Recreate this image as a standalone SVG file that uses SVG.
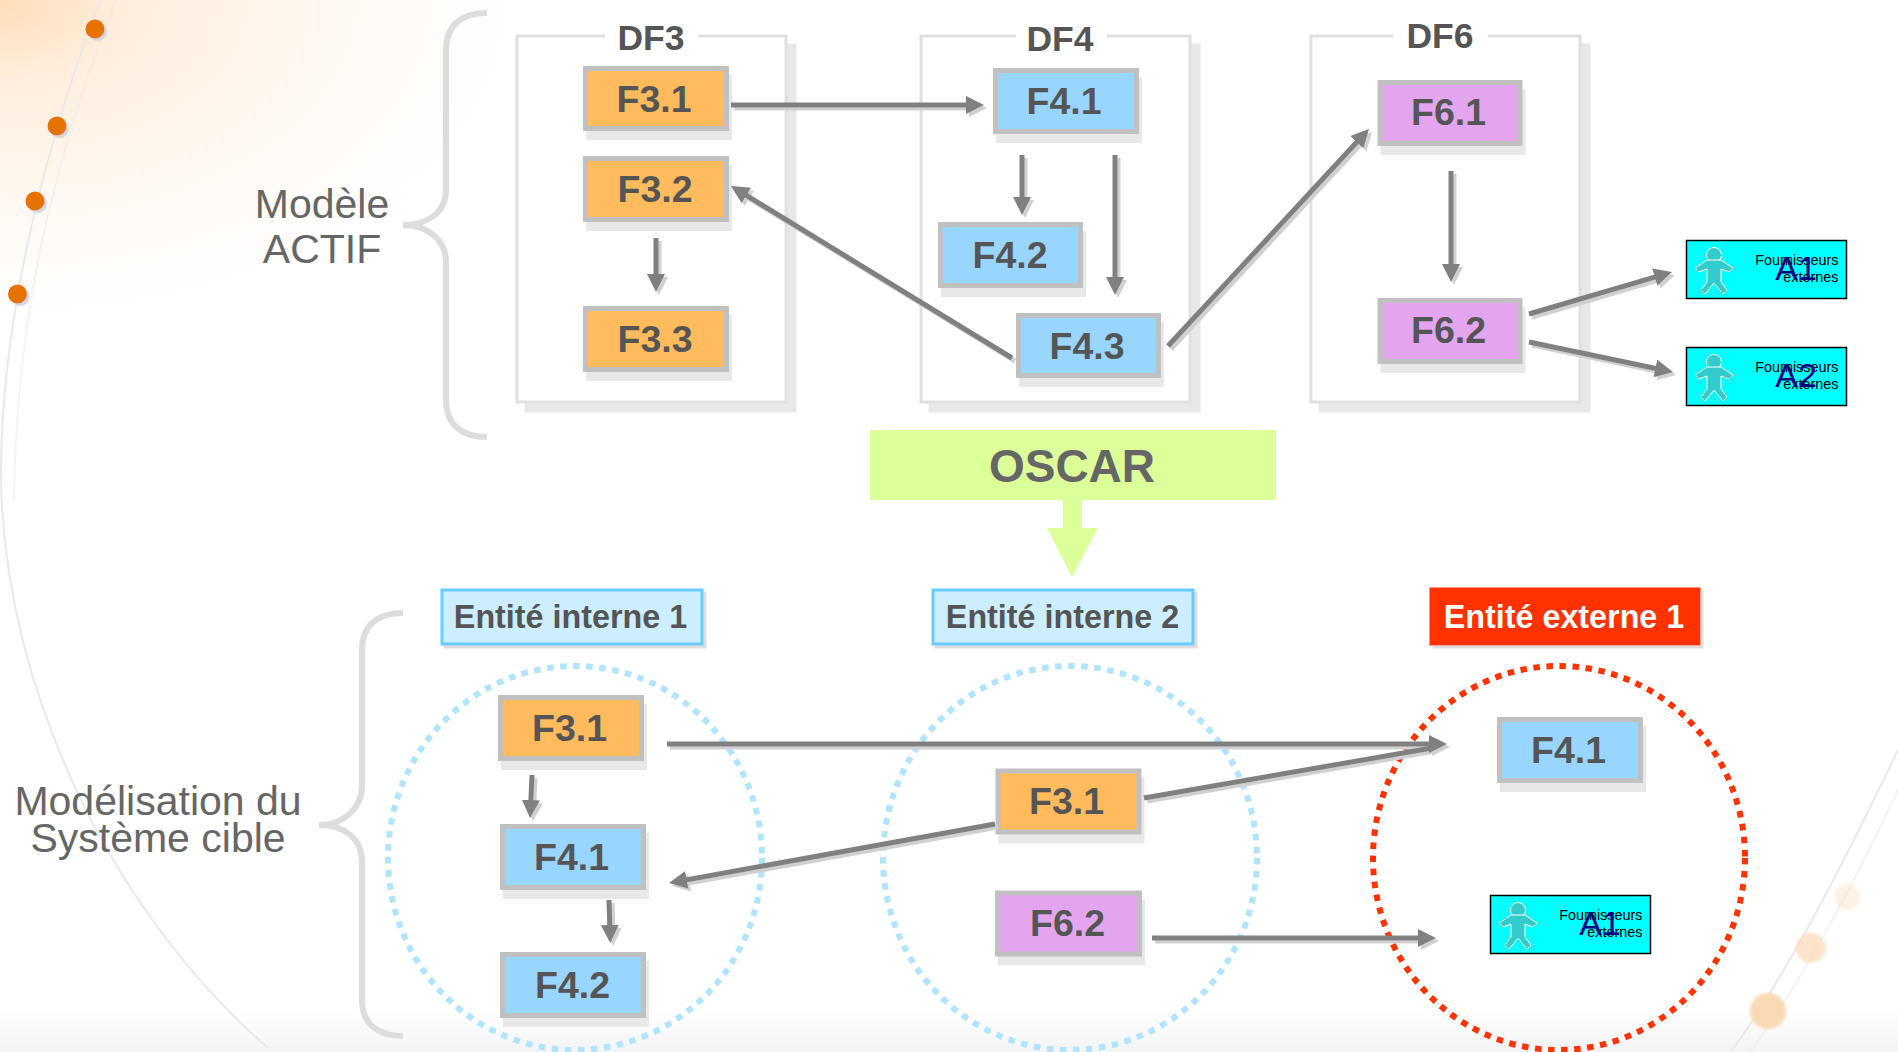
<svg xmlns="http://www.w3.org/2000/svg" width="1898" height="1052" viewBox="0 0 1898 1052">
<style>
text{font-family:"Liberation Sans",Arial,sans-serif}
.frame{fill:#fff;stroke:#e0e0e0;stroke-width:3}
.gap{fill:#fff;stroke:none}
.df{font-size:35.500px;font-weight:bold;fill:#555;text-anchor:middle}
.n rect{stroke:#c0c0c0;stroke-width:5}
.n text{font-size:37.500px;font-weight:bold;fill:#555;text-anchor:middle}
.or rect{fill:#ffbb5c}.bl rect{fill:#99d6ff}.pu rect{fill:#e3a5ee}
.ent rect{fill:#cceeff;stroke:#66ccff;stroke-width:3}
.ent text{font-size:32.300px;font-weight:bold;fill:#555;text-anchor:middle}
.lab{font-size:41px;fill:#666;text-anchor:middle}
.brace{fill:none;stroke:#ddd;stroke-width:6}
.arc{fill:none;stroke:#e9e9e9;stroke-width:2}
.act rect{fill:#0ff;stroke:#000;stroke-width:1.5}
.act .s{font-size:14.400px;fill:#000;text-anchor:end}
.act .a{font-size:34px;fill:#000080;text-anchor:middle}
.dash{fill:none;stroke-width:6;stroke-dasharray:6.5 6.6}
#connectors line{stroke:#808080;stroke-width:5;marker-end:url(#head)}
#connectors line.nohead{marker-end:none}
</style>
<defs>
<radialGradient id="glow" gradientUnits="userSpaceOnUse" cx="0" cy="0" r="1" gradientTransform="translate(0 0) scale(520 320)">
<stop offset="0" stop-color="#ffddb8"/><stop offset=".25" stop-color="#ffeedd"/><stop offset=".6" stop-color="#fff8f0"/><stop offset="1" stop-color="#fff"/>
</radialGradient>
<linearGradient id="floor" x1="0" y1="0" x2="0" y2="1"><stop offset="0" stop-color="#fff"/><stop offset="1" stop-color="#f4f4f4"/></linearGradient>
<filter id="blur" x="-50%" y="-50%" width="200%" height="200%"><feGaussianBlur stdDeviation="1.500"/></filter>
<filter id="sBox" filterUnits="userSpaceOnUse" x="0" y="0" width="1898" height="1052"><feDropShadow dx="3" dy="9" stdDeviation="0" flood-color="#e8e8e8"/></filter>
<filter id="sFrame" filterUnits="userSpaceOnUse" x="0" y="0" width="1898" height="1052"><feDropShadow dx="9" dy="9" stdDeviation="0" flood-color="#e8e8e8"/></filter>
<filter id="sEnt" filterUnits="userSpaceOnUse" x="0" y="0" width="1898" height="1052"><feDropShadow dx="3" dy="3" stdDeviation="0" flood-color="#ddd"/></filter>
<filter id="sDot" filterUnits="userSpaceOnUse" x="0" y="0" width="1898" height="1052"><feDropShadow dx="2.500" dy="2.500" stdDeviation="0" flood-color="#d3d6e2"/></filter>
<filter id="sLine" filterUnits="userSpaceOnUse" x="0" y="0" width="1898" height="1052"><feDropShadow dx="3" dy="3" stdDeviation="0" flood-color="#d0d0d0"/></filter>
<marker id="head" markerUnits="userSpaceOnUse" markerWidth="20" markerHeight="20" refX="8" refY="9" orient="auto"><path d="M0 0L18 9L0 18Z" fill="#808080"/></marker>
<g id="person"><circle cx="28" cy="15" r="7.500"/><path d="M21 20L9.300 28L13 32L21 29V42L15 50L19 54L28 43L37 54L41 50L35 42V29L43 32L47 28L35 20Z"/></g>
</defs>
<rect width="1898" height="1052" fill="#fff"/>
<g id="background">
<rect width="520" height="320" fill="url(#glow)"/>
<rect y="1010" width="1898" height="42" fill="url(#floor)"/>
<path class="arc" d="M100 0C40 160 0 330 1 480C5 700 120 920 267 1047"/>
<path class="arc" d="M116 0C50 170 16 320 14 500" opacity=".5"/>
<path class="arc" d="M1898 750C1850 850 1790 970 1731 1052"/>
<path class="arc" d="M1898 790C1860 870 1810 970 1750 1052" opacity=".5"/>
<g fill="#fbd9b4" filter="url(#blur)"><circle cx="1768" cy="1011" r="18"/><circle cx="1811" cy="948" r="15" opacity=".7"/><circle cx="1847" cy="897" r="13" opacity=".35"/></g>
</g>
<g id="bullets" fill="#e67300" filter="url(#sDot)"><circle cx="95" cy="29" r="9.500"/><circle cx="57" cy="126" r="9.500"/><circle cx="35" cy="201" r="9.500"/><circle cx="17.500" cy="294" r="9.500"/></g>
<g id="brace-actif"><path class="brace" d="M487 13C462 13 446 25 446 50V190C446 212 428 225 403 225C428 225 446 240 446 262V400C446 425 462 437 487 437"/><text class="lab" x="322" y="218">Modèle</text><text class="lab" x="322" y="263">ACTIF</text></g>
<g id="brace-cible"><path class="brace" d="M403 613C378 613 362 625 362 650V785C362 808 344 825 319 825C344 825 362 838 362 862V1000C362 1024 378 1036 403 1036"/><text class="lab" x="158" y="815">Modélisation du</text><text class="lab" x="158" y="852">Système cible</text></g>
<g id="DF3"><rect class="frame" x="517" y="36" width="269" height="366" filter="url(#sFrame)"/><rect class="gap" x="605" y="30" width="93" height="12"/><text class="df" x="651" y="50">DF3</text></g>
<g id="DF4"><rect class="frame" x="921" y="36" width="269" height="366" filter="url(#sFrame)"/><rect class="gap" x="1016" y="30" width="91" height="12"/><text class="df" x="1060" y="51">DF4</text></g>
<g id="DF6"><rect class="frame" x="1311" y="36" width="269" height="366" filter="url(#sFrame)"/><rect class="gap" x="1393" y="30" width="95" height="12"/><text class="df" x="1440" y="48">DF6</text></g>
<g id="oscar"><path d="M1063 500H1082V528H1098L1072 577L1047 528H1063Z" fill="#ddff99"/><rect x="870" y="430" width="406" height="70" fill="#ddff99"/><text x="1072" y="482" font-size="46" font-weight="bold" fill="#666" text-anchor="middle">OSCAR</text></g>
<g id="circles"><ellipse class="dash" cx="575" cy="858" rx="187" ry="192" stroke="#b0e4ff"/><ellipse class="dash" cx="1070" cy="858" rx="187" ry="192" stroke="#b0e4ff"/><ellipse class="dash" cx="1559" cy="858" rx="186" ry="192" stroke="#ff3300"/></g>
<g id="e1" class="ent"><rect x="442" y="590" width="260" height="54" filter="url(#sEnt)"/><text x="570.500" y="628">Entité interne 1</text></g>
<g id="e2" class="ent"><rect x="933" y="590" width="260" height="54" filter="url(#sEnt)"/><text x="1062.500" y="628">Entité interne 2</text></g>
<g id="e3" class="ent"><rect x="1431" y="589" width="268" height="55" filter="url(#sEnt)" style="fill:#ff3300;stroke:#ff3300"/><text x="1564" y="628" style="fill:#fff">Entité externe 1</text></g>
<g id="f31" class="n or"><rect x="585.500" y="68.500" width="141" height="60" filter="url(#sBox)"/><text x="654" y="112">F3.1</text></g>
<g id="f32" class="n or"><rect x="585.500" y="158.500" width="141" height="61" filter="url(#sBox)"/><text x="655" y="202">F3.2</text></g>
<g id="f33" class="n or"><rect x="585.500" y="308.500" width="141" height="61" filter="url(#sBox)"/><text x="655" y="352">F3.3</text></g>
<g id="f41" class="n bl"><rect x="995.500" y="70.500" width="141" height="61" filter="url(#sBox)"/><text x="1064" y="114">F4.1</text></g>
<g id="f42" class="n bl"><rect x="940.500" y="224.500" width="140" height="61" filter="url(#sBox)"/><text x="1010" y="268">F4.2</text></g>
<g id="f43" class="n bl"><rect x="1018.500" y="315.500" width="140" height="60" filter="url(#sBox)"/><text x="1087" y="359">F4.3</text></g>
<g id="f61" class="n pu"><rect x="1380" y="82.500" width="140" height="61" filter="url(#sBox)"/><text x="1448.500" y="125">F6.1</text></g>
<g id="f62" class="n pu"><rect x="1380" y="300.500" width="140" height="61" filter="url(#sBox)"/><text x="1448.500" y="343">F6.2</text></g>
<g id="a1" class="act"><rect x="1686.500" y="240.500" width="160" height="58"/><use href="#person" x="1686" y="240" fill="#33cccc" stroke="#fff" stroke-width="1"/><text class="s" x="1838.500" y="265">Fournisseurs</text><text class="s" x="1838.500" y="282">externes</text><text class="a" x="1796" y="280">A1</text></g>
<g id="a2" class="act"><rect x="1686.500" y="347.500" width="160" height="58"/><use href="#person" x="1686" y="347" fill="#33cccc" stroke="#fff" stroke-width="1"/><text class="s" x="1838.500" y="372">Fournisseurs</text><text class="s" x="1838.500" y="389">externes</text><text class="a" x="1796" y="387">A2</text></g>
<g id="l31" class="n or"><rect x="500.500" y="697.500" width="141" height="61" filter="url(#sBox)"/><text x="569.500" y="741">F3.1</text></g>
<g id="l41" class="n bl"><rect x="502.500" y="826.500" width="141" height="61" filter="url(#sBox)"/><text x="571.500" y="870">F4.1</text></g>
<g id="l42" class="n bl"><rect x="502.500" y="954.500" width="141" height="61" filter="url(#sBox)"/><text x="572.500" y="998">F4.2</text></g>
<g id="m31" class="n or"><rect x="998" y="771" width="141" height="61" filter="url(#sBox)"/><text x="1066.500" y="814">F3.1</text></g>
<g id="m62" class="n pu"><rect x="997.500" y="893" width="142" height="61" filter="url(#sBox)"/><text x="1067.500" y="936">F6.2</text></g>
<g id="r41" class="n bl"><rect x="1499.500" y="719.500" width="141" height="61" filter="url(#sBox)"/><text x="1568.500" y="763">F4.1</text></g>
<g id="r-a1" class="act"><rect x="1490.500" y="895.500" width="160" height="58"/><use href="#person" x="1490" y="895" fill="#33cccc" stroke="#fff" stroke-width="1"/><text class="s" x="1642.500" y="920">Fournisseurs</text><text class="s" x="1642.500" y="937">externes</text><text class="a" x="1600" y="935">A1</text></g>
<g id="connectors" filter="url(#sLine)">
<line x1="731" y1="105" x2="974" y2="105"/>
<line x1="1012" y1="358" x2="739.500" y2="191.200"/>
<line x1="656" y1="238" x2="656" y2="282"/>
<line x1="1022" y1="155" x2="1022" y2="205"/>
<line x1="1115" y1="155" x2="1115" y2="285"/>
<line x1="1168" y1="346" x2="1362.200" y2="136.300"/>
<line x1="1451" y1="171" x2="1451" y2="272"/>
<line x1="1529" y1="314" x2="1662.400" y2="274.800"/>
<line x1="1529" y1="342" x2="1663.200" y2="370"/>
<line x1="532" y1="775" x2="530.500" y2="808"/>
<line x1="609" y1="900" x2="610" y2="933"/>
<line class="nohead" x1="1144" y1="798" x2="1432" y2="748"/>
<line x1="667" y1="744" x2="1437" y2="744"/>
<line x1="995" y1="824" x2="678.900" y2="881.200"/>
<line x1="1152" y1="938" x2="1426" y2="938"/>
</g>
</svg>
